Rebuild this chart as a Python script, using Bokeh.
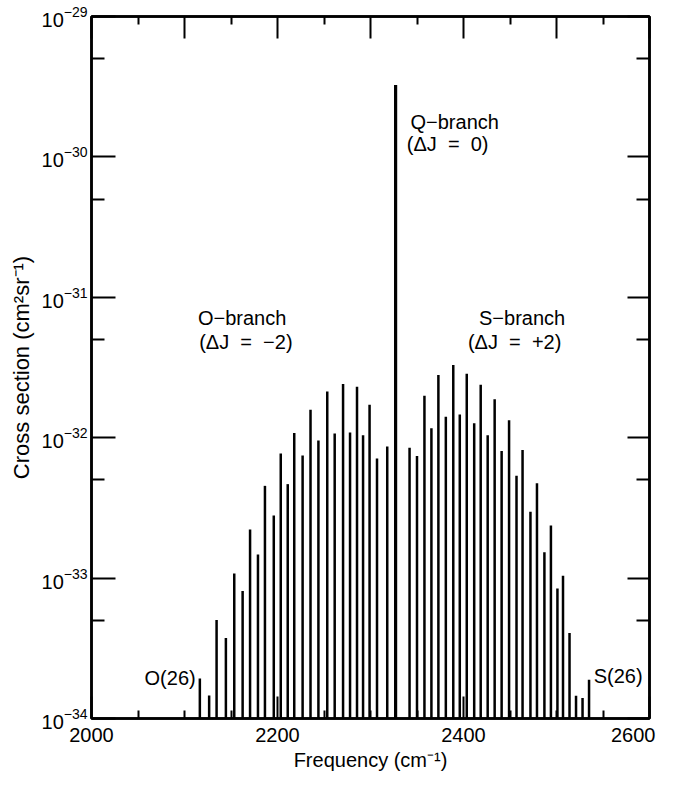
from bokeh.plotting import figure
from bokeh.models import Range1d, LinearAxis, LogAxis, FixedTicker, LogTickFormatter, Label
from bokeh.embed import file_html
from bokeh.resources import INLINE

# ---- data ----
# O-branch, J = 26 ... 2
o_j = list(range(26, 1, -1))
o_freq = [2116.5, 2126.5, 2134.5, 2144.5, 2153.5, 2162.5, 2170.5, 2179.0, 2186.5, 2196.0,
          2203.5, 2211.0, 2218.0, 2227.0, 2235.5, 2244.0, 2253.5, 2261.5, 2270.5, 2278.0,
          2285.5, 2292.0, 2299.0, 2307.0, 2318.0]
o_sigma = [1.93e-34, 1.46e-34, 5.03e-34, 3.74e-34, 1.08e-33, 8.1e-34, 2.22e-33, 1.47e-33, 4.54e-33, 2.79e-33,
           7.73e-33, 4.67e-33, 1.08e-32, 7.48e-33, 1.58e-32, 9.54e-33, 2.13e-32, 1.07e-32, 2.41e-32, 1.09e-32,
           2.31e-32, 1.04e-32, 1.72e-32, 7.1e-33, 8.67e-33]
# Q-branch
q_freq = [2327.0]
q_sigma = [3.25e-30]
# S-branch, J = 0 ... 26
s_j = list(range(0, 27))
s_freq = [2342.0, 2350.0, 2358.0, 2365.5, 2373.0, 2381.0, 2389.0, 2396.0, 2403.5, 2411.5,
          2418.5, 2426.0, 2433.5, 2441.0, 2449.0, 2457.0, 2463.5, 2472.0, 2479.0, 2487.0,
          2494.0, 2501.0, 2507.0, 2514.0, 2521.0, 2528.0, 2535.0]
s_sigma = [8.49e-33, 7.4e-33, 1.99e-32, 1.17e-32, 2.8e-32, 1.41e-32, 3.3e-32, 1.46e-32, 2.85e-32, 1.27e-32,
           2.38e-32, 1.04e-32, 1.88e-32, 8.03e-33, 1.33e-32, 5.35e-33, 8.17e-33, 2.97e-33, 4.74e-33, 1.53e-33,
           2.37e-33, 8.43e-34, 1.04e-33, 4.06e-34, 1.45e-34, 1.4e-34, 1.89e-34]

x_major = [2000, 2200, 2400, 2600]
x_minor = [2050, 2100, 2150, 2250, 2300, 2350, 2450, 2500, 2550]
x_top_major = [2000, 2100, 2200, 2300, 2400, 2500, 2600]
x_top_minor = [2050, 2150, 2250, 2350, 2450, 2550]
y_decades = [1e-34, 1e-33, 1e-32, 1e-31, 1e-30, 1e-29]
y_halves = [5e-34, 5e-33, 5e-32, 5e-31, 5e-30]
y_base = 1e-34
y_top = 1e-29

FONT = "Liberation Sans"
NB = "\u00a0"

p = figure(width=666, height=773, x_range=Range1d(2000, 2600), y_range=Range1d(y_base, y_top),
           y_axis_type="log", output_backend="svg", toolbar_location=None,
           x_axis_location=None, y_axis_location=None,
           min_border_left=91, min_border_right=17, min_border_top=16, min_border_bottom=50)
p.grid.visible = False
p.outline_line_color = "black"
p.outline_line_width = 2.5
p.background_fill_color = "white"
p.border_fill_color = "white"

def style(ax):
    ax.axis_line_width = 2.5
    ax.axis_line_color = "black"
    ax.major_tick_out = 0
    ax.minor_tick_out = 0
    ax.major_tick_line_width = 2
    ax.minor_tick_line_width = 2
    ax.major_label_text_font = FONT
    ax.major_label_text_color = "black"
    ax.axis_label_text_font = FONT
    ax.axis_label_text_font_style = "normal"
    ax.axis_label_text_color = "black"

bottom = LinearAxis(ticker=FixedTicker(ticks=x_major, minor_ticks=x_minor))
style(bottom)
bottom.major_tick_in = 22
bottom.minor_tick_in = 8
bottom.major_label_text_font_size = "20px"
bottom.major_label_standoff = 5
bottom.axis_label = "Frequency (cm\u207b\u00b9)"
bottom.axis_label_text_font_size = "20px"
bottom.axis_label_standoff = 0
bottom.major_label_overrides = {2600: "2600" + NB + NB}
p.add_layout(bottom, "below")

top = LinearAxis(ticker=FixedTicker(ticks=x_top_major, minor_ticks=x_top_minor))
style(top)
top.major_tick_in = 22
top.minor_tick_in = 8
top.major_label_text_font_size = "0px"
top.major_label_text_alpha = 0
top.major_label_standoff = 0
p.add_layout(top, "above")

left = LogAxis(ticker=FixedTicker(ticks=y_decades, minor_ticks=y_halves), formatter=LogTickFormatter())
style(left)
left.major_tick_in = 24
left.minor_tick_in = 13
left.major_label_text_font_size = "20px"
left.major_label_standoff = 4
left.axis_label = "Cross section (cm\u00b2sr\u207b\u00b9)"
left.axis_label_text_font_size = "22px"
left.axis_label_standoff = 5
p.add_layout(left, "left")

right = LogAxis(ticker=FixedTicker(ticks=y_decades, minor_ticks=y_halves))
style(right)
right.major_tick_in = 22
right.minor_tick_in = 13
right.major_label_text_alpha = 0
right.major_label_text_font_size = "0px"
right.major_label_standoff = 0
p.add_layout(right, "right")

# spectral lines
p.segment(x0=o_freq, y0=[y_base] * len(o_freq), x1=o_freq, y1=o_sigma, line_color="black", line_width=2.5)
p.segment(x0=s_freq, y0=[y_base] * len(s_freq), x1=s_freq, y1=s_sigma, line_color="black", line_width=2.5)
p.segment(x0=q_freq, y0=[y_base], x1=q_freq, y1=q_sigma, line_color="black", line_width=3.2)

def lab(x, y, text, align="center"):
    p.add_layout(Label(x=x, y=y, text=text, text_font=FONT, text_font_size="20px",
                       text_align=align, text_baseline="middle", text_color="black"))

eq = NB + NB + "=" + NB + NB
lab(2162, 7.1e-32, "O\u2212branch")
lab(2166, 4.8e-32, "(\u0394J" + eq + "\u22122)")
lab(2463, 7.1e-32, "S\u2212branch")
lab(2455, 4.8e-32, "(\u0394J" + eq + "+2)")
lab(2343, 1.78e-30, "Q\u2212branch", "left")
lab(2339, 1.23e-30, "(\u0394J" + eq + "0)", "left")
lab(2112, 1.95e-34, "O(26)", "right")
lab(2540, 2.0e-34, "S(26)", "left")

open("out.html", "w").write(file_html(p, INLINE))
